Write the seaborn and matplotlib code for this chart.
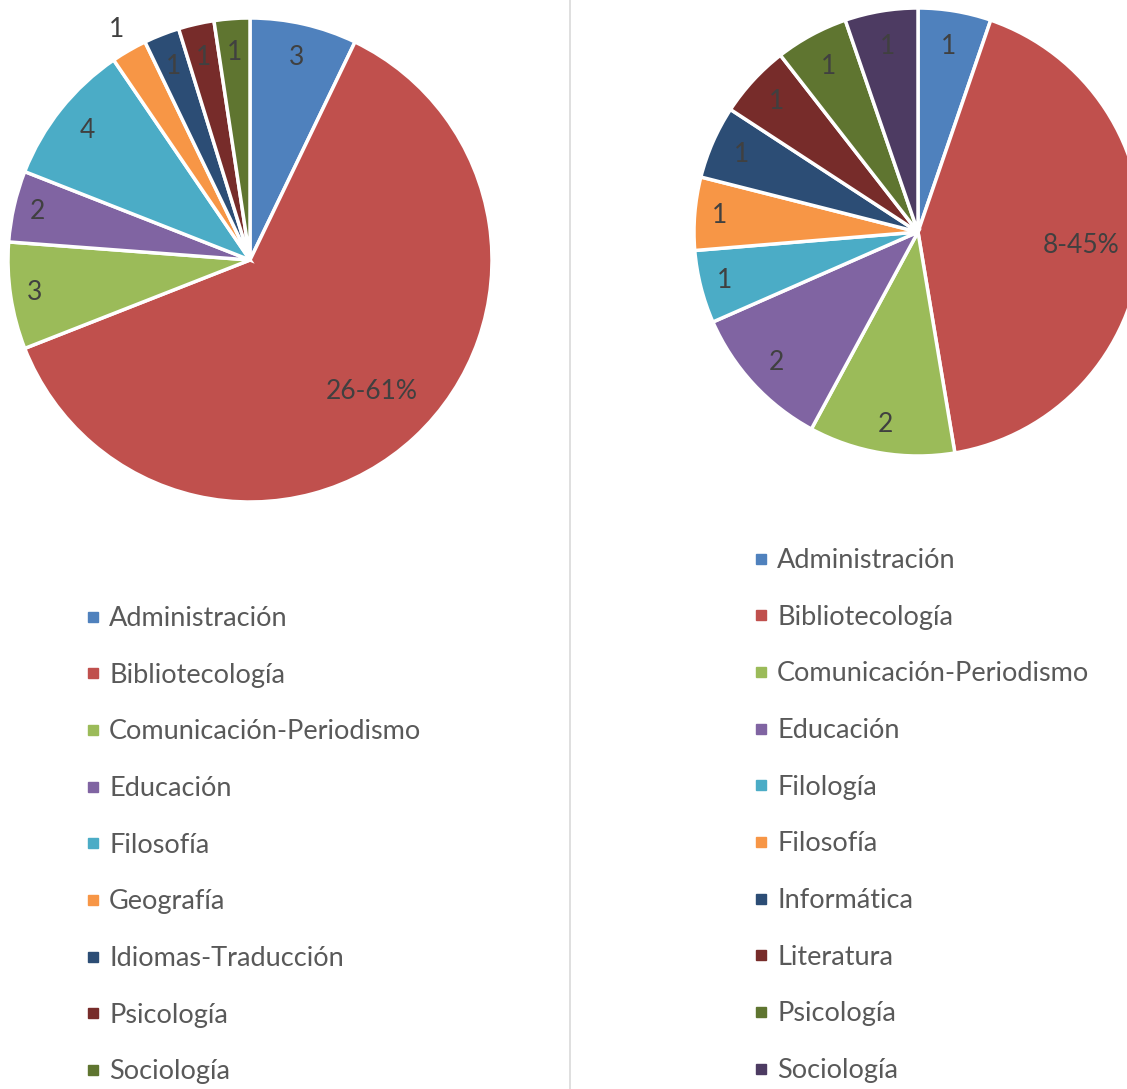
import numpy as np
import matplotlib
matplotlib.use("Agg")
import matplotlib.pyplot as plt
from matplotlib.lines import Line2D
import seaborn as sns

# left chart data
left_cats = ["Administración", "Bibliotecología", "Comunicación-Periodismo", "Educación",
             "Filosofía", "Geografía", "Idiomas-Traducción", "Psicología", "Sociología"]
left_vals = [3, 26, 3, 2, 4, 1, 1, 1, 1]
left_labels = ["3", "26-61%", "3", "2", "4", "1", "1", "1", "1"]

# right chart data
right_cats = ["Administración", "Bibliotecología", "Comunicación-Periodismo", "Educación",
              "Filología", "Filosofía", "Informática", "Literatura", "Psicología", "Sociología"]
right_vals = [1, 8, 2, 2, 1, 1, 1, 1, 1, 1]
right_labels = ["1", "8-45%", "2", "2", "1", "1", "1", "1", "1", "1"]

# excel 2010 style colours
left_pal = sns.color_palette(["#4F81BD", "#C0504D", "#9BBB59", "#8064A2", "#4BACC6",
                              "#F79646", "#2C4D75", "#772C2A", "#5F7530"])
right_pal = sns.color_palette(["#4F81BD", "#C0504D", "#9BBB59", "#8064A2", "#4BACC6",
                               "#F79646", "#2C4D75", "#772C2A", "#5F7530", "#4D3B62"])

sns.set_theme(style="white")
plt.rcParams['font.family'] = ['Lato', 'DejaVu Sans']

fig = plt.figure(figsize=(11.27, 10.89), dpi=100)
fig.patch.set_facecolor("white")


def draw_pie(ax, vals, labels, pal, label_r):
    wedges, _ = ax.pie(vals, colors=pal, startangle=90, counterclock=False,
                       radius=1, wedgeprops=dict(edgecolor="white", linewidth=2.5))
    for w, lab, r in zip(wedges, labels, label_r):
        ang = np.deg2rad((w.theta1 + w.theta2) / 2)
        ax.text(r * np.cos(ang), r * np.sin(ang), lab, ha="center", va="center",
                fontsize=19, color="#404040")
    ax.set_xlim(-1, 1)
    ax.set_ylim(-1, 1)
    ax.axis("off")
    return wedges


ax1 = fig.add_axes([8 / 1127, 1 - 502 / 1089, 484 / 1127, 484 / 1089])
draw_pie(ax1, left_vals, left_labels, left_pal,
         [0.86, 0.74, 0.9, 0.9, 0.86, 1.1, 0.86, 0.86, 0.86])

ax2 = fig.add_axes([694 / 1127, 1 - 456 / 1089, 448 / 1127, 448 / 1089])
draw_pie(ax2, right_vals, right_labels, right_pal,
         [0.84, 0.73, 0.87, 0.86, 0.89, 0.89, 0.86, 0.86, 0.84, 0.84])

# separator
fig.add_artist(Line2D([570 / 1127, 570 / 1127], [0, 1], color="#D9D9D9", lw=1.2))


def add_legend(cats, pal, x, y):
    handles = [Line2D([], [], marker="s", ls="", markersize=7, color=c) for c in pal]
    leg = fig.legend(handles, cats, loc="upper left", bbox_to_anchor=(x, y),
                     frameon=False, fontsize=19.5, labelspacing=1.17,
                     handlelength=0.5, handletextpad=0.35, borderpad=0, borderaxespad=0)
    for t in leg.get_texts():
        t.set_color("#595959")


add_legend(left_cats, left_pal, 86 / 1127, 1 - 606 / 1089)
add_legend(right_cats, right_pal, 754 / 1127, 1 - 548 / 1089)

fig.savefig("out.png", dpi=100, facecolor="white")
